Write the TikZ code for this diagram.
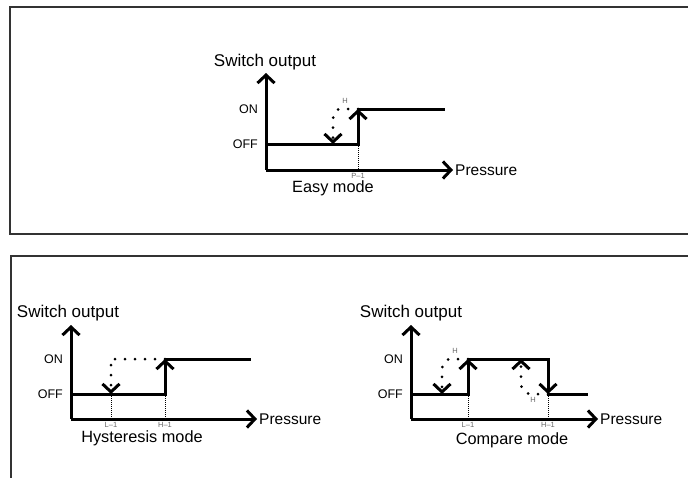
\documentclass[tikz,border=0pt]{standalone}
\usepackage{fontspec}
\setmainfont{Liberation Sans}
\usetikzlibrary{arrows.meta}

\begin{document}
\begin{tikzpicture}[
  x=1pt, y=-1pt,
  panel/.style={draw=black!80, line width=2pt},
  axisline/.style={line width=3pt, -{Straight Barb[length=8pt, width=17pt, line width=3pt]}},
  level/.style={line width=3pt, line cap=rect},
  jump/.style={line width=3pt, -{Straight Barb[length=8pt, width=17pt, line width=3pt]}},
  hint/.style={line width=3pt, line cap=round, dash pattern=on 0pt off 10pt,
               -{Straight Barb[length=8pt, width=17pt, line width=3pt]}},
  guide/.style={line width=0.7pt, dash pattern=on 1pt off 1pt},
  title/.style={font=\fontsize{17}{20}\selectfont, inner sep=0pt},
  axislab/.style={font=\fontsize{15.5}{18}\selectfont, inner sep=0pt, anchor=west},
  state/.style={font=\fontsize{12.5}{14}\selectfont, inner sep=0pt, anchor=east},
  tag/.style={font=\fontsize{7.5}{8}\selectfont, text=black!60, inner sep=0pt},
  caption/.style={font=\fontsize{16.3}{19}\selectfont, inner sep=0pt}
]
\useasboundingbox (0,0) rectangle (688,477);
\clip (0,0) rectangle (688,477);
% frames
\draw[panel] (10,7) rectangle (700,234);
\draw[panel] (11,256) rectangle (700,500);

% ---------------- easy mode ----------------
\coordinate (e0) at (266,170);
\coordinate (eoff) at (266,144);
\coordinate (ep) at (358,144);
\coordinate (epon) at (358,109);
\coordinate (eend) at (443,109);
\coordinate (edrop) at (333,144);
\draw[axisline] (e0) -- (266,73) coordinate (ey);
\draw[axisline] (e0) -- (453,170) coordinate (ex);
\node[title] (eylab) at (265,62) {Switch output};
\node[axislab] (exlab) at (455,170) {Pressure};
\node[state] (eon) at (258,109) {ON};
\node[state] (eoffl) at (258,144) {OFF};
\draw[level] (eoff) -- (ep);
\draw[jump] (ep) -- (epon);
\draw[level] (epon) -- (eend);
\draw[hint] (epon) -- (340,109) to[out=180, in=90] (333,120) -- (edrop);
\node[tag] (eh) at (345,101) {H};
\draw[guide] (ep) -- (ep |- e0);
\node[tag] (ep1) at (358,176) {P--1};
\node[caption] (ecap) at (333,188) {Easy mode};

% ---------------- hysteresis mode ----------------
\coordinate (h0) at (71,419);
\coordinate (hoff) at (71,394);
\coordinate (hl) at (111,394);
\coordinate (hh) at (165,394);
\coordinate (hhon) at (165,359);
\coordinate (hend) at (249,359);
\draw[axisline] (h0) -- (71,325) coordinate (hy);
\draw[axisline] (h0) -- (257,419) coordinate (hx);
\node[title] (hylab) at (68,313) {Switch output};
\node[axislab] (hxlab) at (259,419) {Pressure};
\node[state] (hon) at (63,359) {ON};
\node[state] (hoffl) at (63,394) {OFF};
\draw[level] (hoff) -- (hh);
\draw[jump] (hh) -- (hhon);
\draw[level] (hhon) -- (hend);
\draw[hint] (hhon) -- (111,359) -- (hl);
\draw[guide] (hl) -- (hl |- h0);
\draw[guide] (hh) -- (hh |- h0);
\node[tag] (hl1) at (111,425) {L--1};
\node[tag] (hh1) at (165,425) {H--1};
\node[caption] (hcap) at (142,438) {Hysteresis mode};

% ---------------- compare mode ----------------
\coordinate (c0) at (411,419);
\coordinate (coff) at (411,394);
\coordinate (cl) at (468,394);
\coordinate (clon) at (468,359);
\coordinate (chon) at (548,359);
\coordinate (ch) at (548,394);
\coordinate (cend) at (586,394);
\draw[axisline] (c0) -- (411,325) coordinate (cy);
\draw[axisline] (c0) -- (598,419) coordinate (cx);
\node[title] (cylab) at (411,313) {Switch output};
\node[axislab] (cxlab) at (600,419) {Pressure};
\node[state] (con) at (403,359) {ON};
\node[state] (coffl) at (403,394) {OFF};
\draw[level] (coff) -- (cl);
\draw[jump] (cl) -- (clon);
\draw[level] (clon) -- (chon);
\draw[jump] (chon) -- (ch);
\draw[level] (ch) -- (cend);
\draw[hint] (clon) -- (450,359) to[out=180, in=90] (442,370) -- (442,394);
\node[tag] (chi) at (455,351) {H};
\draw[hint] (ch) -- (530,394) to[out=180, in=-90] (521,383) -- (521,359);
\node[tag] (chj) at (533,400) {H};
\draw[guide] (cl) -- (cl |- c0);
\draw[guide] (ch) -- (ch |- c0);
\node[tag] (cl1) at (468,425) {L--1};
\node[tag] (ch1) at (548,425) {H--1};
\node[caption] (ccap) at (512,440) {Compare mode};
\end{tikzpicture}
\end{document}
